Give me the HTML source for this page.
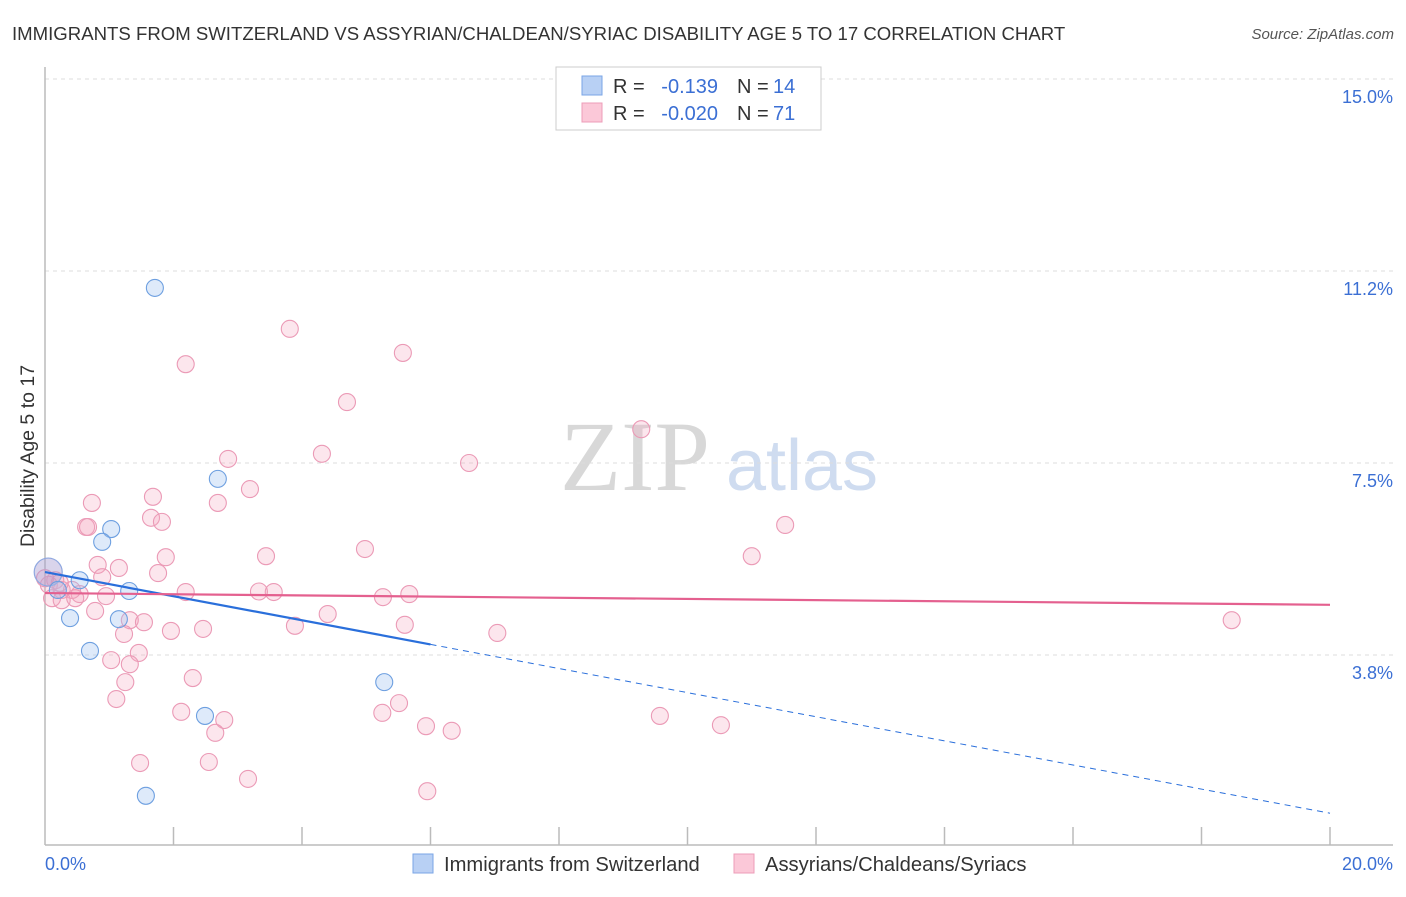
<!DOCTYPE html>
<html><head><meta charset="utf-8"><style>
body{margin:0;background:#fff;font-family:"Liberation Sans",sans-serif}
</style></head><body>
<svg id="chart" width="1406" height="892" xmlns="http://www.w3.org/2000/svg" font-family="Liberation Sans, sans-serif">
<text x="12" y="40" font-size="18.6" fill="#333">IMMIGRANTS FROM SWITZERLAND VS ASSYRIAN/CHALDEAN/SYRIAC DISABILITY AGE 5 TO 17 CORRELATION CHART</text>
<text x="1394" y="39" font-size="15" fill="#555" font-style="italic" text-anchor="end">Source: ZipAtlas.com</text>
<text transform="translate(34,456) rotate(-90)" font-size="19.5" fill="#333" text-anchor="middle">Disability Age 5 to 17</text>
<g>
<text x="635" y="490" font-size="100" font-family="Liberation Serif, serif" fill="#d8d8d8" text-anchor="middle">ZIP</text>
<text x="802" y="490" font-size="72" fill="#cfdcf0" text-anchor="middle">atlas</text>
</g>
<g id="grid"></g><g id="axes"></g><g id="trend"></g><g id="pts"></g>
<g>
<rect x="556" y="67" width="265" height="63" fill="#fff" stroke="#ccc"/>
<rect x="582" y="76" width="20" height="19" fill="#b8d0f4" stroke="#7aa5e6"/>
<rect x="582" y="103" width="20" height="19" fill="#fbc8d8" stroke="#ec9db8"/>
<g font-size="20">
<text x="613" y="93" fill="#333">R =</text>
<text x="718" y="93" fill="#3b6fd4" text-anchor="end">-0.139</text>
<text x="737" y="93" fill="#333">N =</text>
<text x="773" y="93" fill="#3b6fd4">14</text>
<text x="613" y="120" fill="#333">R =</text>
<text x="718" y="120" fill="#3b6fd4" text-anchor="end">-0.020</text>
<text x="737" y="120" fill="#333">N =</text>
<text x="773" y="120" fill="#3b6fd4">71</text>
</g>
</g>
<g>
<rect x="413" y="854" width="20" height="19" fill="#b8d0f4" stroke="#7aa5e6"/>
<text x="444" y="871" font-size="20.2" fill="#333">Immigrants from Switzerland</text>
<rect x="734" y="854" width="20" height="19" fill="#fbc8d8" stroke="#ec9db8"/>
<text x="765" y="871" font-size="20.2" fill="#333">Assyrians/Chaldeans/Syriacs</text>
</g>
</svg>
<script>
const yTicks=[15.0,11.25,7.5,3.75];
const yTickLabels=["15.0%","11.2%","7.5%","3.8%"];
const xTickLabels=["0.0%","20.0%"];
const blueX=[1.71,2.69,1.03,0.89,0.54,1.31,0.39,1.15,0.70,2.49,5.28,1.57,0.2];
const blueY=[10.92,7.19,6.21,5.96,5.21,5.0,4.47,4.45,3.83,2.56,3.22,1.0,5.02];
const bigX=[0.05], bigY=[5.37];
const pinkX=[3.81,2.19,5.57,4.70,9.28,2.85,4.31,6.60,3.19,1.68,0.73,2.69,0.64,0.67,1.65,1.82,11.52,4.98,3.44,1.88,11.00,0.82,1.15,1.76,0.89,0.16,0.06,0.26,0.54,0.42,0.95,2.19,3.33,3.56,5.26,5.67,0.11,0.26,0.47,0.78,4.40,1.32,1.54,1.23,1.96,2.46,3.89,5.60,7.04,18.47,1.46,1.03,1.32,2.30,1.25,1.11,2.12,5.25,2.79,5.51,9.57,2.65,5.93,6.33,10.52,1.48,2.55,3.16,5.95,0.23,0.0];
const pinkY=[10.12,9.43,9.65,8.69,8.16,7.58,7.68,7.50,6.99,6.84,6.72,6.72,6.25,6.25,6.43,6.35,6.29,5.82,5.68,5.66,5.68,5.51,5.45,5.35,5.27,5.21,5.12,5.02,4.94,5.02,4.90,4.98,4.99,4.98,4.88,4.94,4.86,4.82,4.86,4.61,4.55,4.43,4.39,4.16,4.22,4.26,4.32,4.34,4.18,4.43,3.79,3.65,3.57,3.30,3.22,2.89,2.64,2.62,2.48,2.81,2.56,2.23,2.36,2.27,2.38,1.64,1.66,1.33,1.09,5.16,5.25];
const blueTrend=[5.37,0.66], blueSolidEnd=6.0;
const pinkTrend=[4.96,4.73];
const X=v=>45+v*64.25, Y=v=>79+(15-v)*51.2;
const NS="http://www.w3.org/2000/svg";
function mk(parent,tag,attrs){const e=document.createElementNS(NS,tag);for(const k in attrs)e.setAttribute(k,attrs[k]);document.getElementById(parent).appendChild(e);return e;}
yTicks.forEach((t,i)=>{
 const l=mk('grid','line',{x1:45,x2:1393,y1:Y(t),y2:Y(t),stroke:'#ddd','stroke-dasharray':'4,4'});
 
 
 const tx=mk('grid','text',{x:1393,y:Y(t)+24,'font-size':18,fill:'#3b6fd4','text-anchor':'end'});
 tx.textContent=yTickLabels[i];
 
 
});
const ya=mk('axes','line',{x1:45,x2:45,y1:67,y2:845,stroke:'#bbb','stroke-width':1.5});


const xa=mk('axes','line',{x1:45,x2:1393,y1:845,y2:845,stroke:'#bbb','stroke-width':1.5});


for(let i=1;i<=10;i++){
 const tk=mk('axes','line',{x1:X(i*2),x2:X(i*2),y1:827,y2:845,stroke:'#bbb','stroke-width':1.5});
 
 
}
const xl0=mk('axes','text',{x:45,y:870,'font-size':18,fill:'#3b6fd4'});xl0.textContent=xTickLabels[0];


const xl1=mk('axes','text',{x:1393,y:870,'font-size':18,fill:'#3b6fd4','text-anchor':'end'});xl1.textContent=xTickLabels[1];


pinkX.forEach((v,i)=>{
 const c=mk('pts','circle',{cx:X(v),cy:Y(pinkY[i]),r:8.5,fill:'rgba(243,165,192,0.28)',stroke:'#eb9ab6','stroke-width':1.1});
 
 
});
bigX.forEach((v,i)=>{
 const c=mk('pts','circle',{cx:X(v),cy:Y(bigY[i]),r:14,fill:'rgba(170,160,210,0.45)',stroke:'#8fa8e0','stroke-width':1.2});
 
 
});
blueX.forEach((v,i)=>{
 const c=mk('pts','circle',{cx:X(v),cy:Y(blueY[i]),r:8.5,fill:'rgba(160,195,240,0.35)',stroke:'#6d9fe0','stroke-width':1.1});
 
 
});
const bAt=v=>blueTrend[0]+(blueTrend[1]-blueTrend[0])*v/20;
const bs=mk('pts','line',{x1:X(0),y1:Y(blueTrend[0]),x2:X(blueSolidEnd),y2:Y(bAt(blueSolidEnd)),stroke:'#2a6fdb','stroke-width':2.2});


const bd=mk('pts','line',{x1:X(blueSolidEnd),y1:Y(bAt(blueSolidEnd)),x2:X(20),y2:Y(blueTrend[1]),stroke:'#2a6fdb','stroke-width':1,'stroke-dasharray':'6,5'});


const pl=mk('pts','line',{x1:X(0),y1:Y(pinkTrend[0]),x2:X(20),y2:Y(pinkTrend[1]),stroke:'#e4608f','stroke-width':2.2});


</script>
</body></html>
